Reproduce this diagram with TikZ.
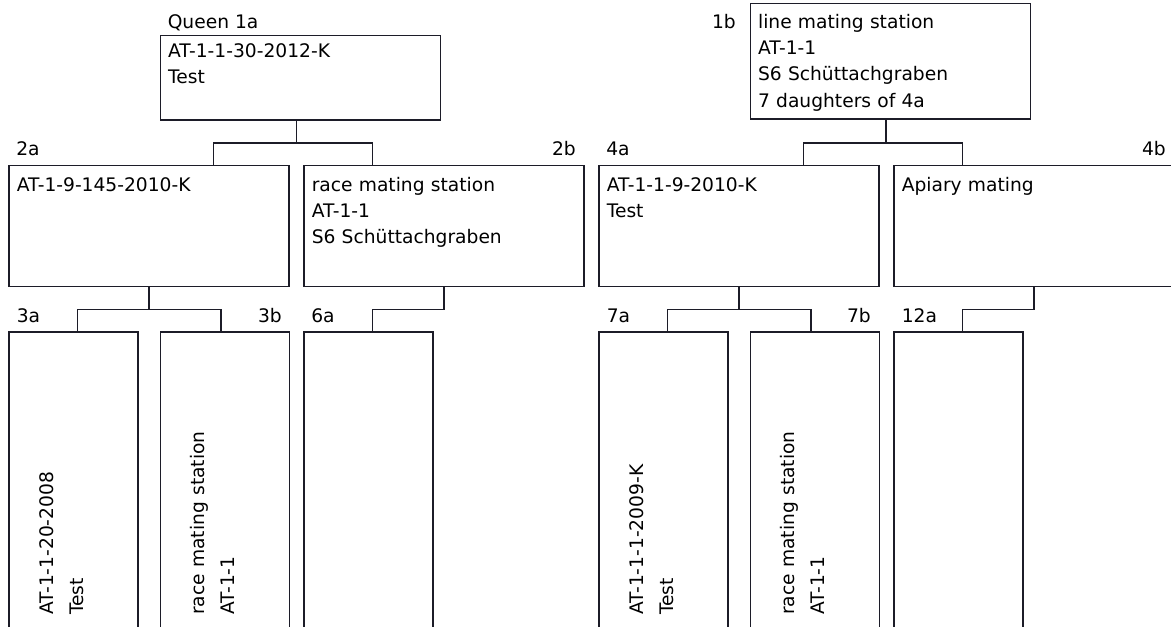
\documentclass[tikz,border=0pt]{standalone}
\usepackage{fontspec}
\setmainfont{DejaVu Sans}
\usetikzlibrary{calc}
\definecolor{linec}{RGB}{28,28,40}
\begin{document}
\begin{tikzpicture}[x=0.75pt,y=-0.75pt,
  box/.style={draw=linec, line width=1pt, anchor=north west, inner sep=0pt, outer sep=0pt},
  wide/.style={box, minimum width=210pt, minimum height=90.75pt},
  tall/.style={box, minimum width=96.75pt, minimum height=277.5pt},
  conn/.style={draw=linec, line width=1pt},
  lbl/.style={inner sep=0pt, anchor=base west, font=\fontsize{14}{19.7}\selectfont},
  lblr/.style={lbl, anchor=base east},
  txt/.style={inner sep=0pt, anchor=base west, text width=220pt, align=left, font=\fontsize{14}{19.7}\selectfont},
  vtxt/.style={txt, rotate=90, font=\fontsize{14}{22.5}\selectfont}]
\clip (0,0) rectangle (1171,626);
\fill[white] (0,0) rectangle (1171,626);
% level 1
\node[box, minimum width=210pt, minimum height=63.2pt] (b1a) at (160.3,35.7) {};
\node[box, minimum width=210pt, minimum height=86.8pt] (b1b) at (750.5,3.3) {};
% level 2
\node[wide] (b2a) at (9,165.7) {};
\node[wide] (b2b) at (304,165.7) {};
\node[wide] (b4a) at (599,165.7) {};
\node[wide] (b4b) at (894,165.7) {};
% level 3
\node[tall] (b3a) at (9,332) {};
\node[tall] (b3b) at (160.5,332) {};
\node[tall] (b6a) at (304,332) {};
\node[tall] (b7a) at (599,332) {};
\node[tall] (b7b) at (750.5,332) {};
\node[tall] (b12a) at (894,332) {};
% connectors
\coordinate (j1a) at ($(b1a.south west)+(136,23)$);
\draw[conn] ($(b1a.south west)+(136,0)$) -- (j1a);
\draw[conn] ($(b2a.north west)+(204.7,0)$) |- (j1a) -| ($(b2b.north west)+(68.3,0)$);
\coordinate (j1b) at ($(b1b.south west)+(135.5,24)$);
\draw[conn] ($(b1b.south west)+(135.5,0)$) -- (j1b);
\draw[conn] ($(b4a.north west)+(204.5,0)$) |- (j1b) -| ($(b4b.north west)+(68.3,0)$);
\coordinate (j2a) at ($(b2a.south)+(0,22.6)$);
\draw[conn] (b2a.south) -- (j2a);
\draw[conn] ($(b3a.north west)+(68.3,0)$) |- (j2a) -| ($(b3b.north west)+(60.5,0)$);
\coordinate (j2b) at ($(b2b.south)+(0,22.6)$);
\draw[conn] (b2b.south) -- (j2b) -| ($(b6a.north west)+(68.3,0)$);
\coordinate (j4a) at ($(b4a.south)+(0,22.6)$);
\draw[conn] (b4a.south) -- (j4a);
\draw[conn] ($(b7a.north west)+(68.3,0)$) |- (j4a) -| ($(b7b.north west)+(60.5,0)$);
\coordinate (j4b) at ($(b4b.south)+(0,22.6)$);
\draw[conn] (b4b.south) -- (j4b) -| ($(b12a.north west)+(68.3,0)$);
% labels
\node[lbl] (l1a) at (167.5,28.3) {Queen 1a};
\node[lblr] (l1b) at (736,28.3) {1b};
\node[lbl] (l2a) at (16,155) {2a};
\node[lblr] (l2b) at (576,155) {2b};
\node[lbl] (l4a) at (606,155) {4a};
\node[lblr] (l4b) at (1166,155) {4b};
\node[lbl] (l3a) at (16.5,322.7) {3a};
\node[lblr] (l3b) at (282,322.7) {3b};
\node[lbl] (l6a) at (311,322.7) {6a};
\node[lbl] (l7a) at (606.5,322.7) {7a};
\node[lblr] (l7b) at (871,322.7) {7b};
\node[lbl] (l12a) at (901.5,322.7) {12a};
% box texts
\node[txt] (t1a) at (167.8,57.3) {AT-1-1-30-2012-K\\Test};
\node[txt] (t1b) at (757.8,28.3) {line mating station\\AT-1-1\\S6 Schüttachgraben\\7 daughters of 4a};
\node[txt] (t2a) at (16.5,191.2) {AT-1-9-145-2010-K};
\node[txt] (t2b) at (311.5,191.2) {race mating station\\AT-1-1\\S6 Schüttachgraben};
\node[txt] (t4a) at (606.5,191.2) {AT-1-1-9-2010-K\\Test};
\node[txt] (t4b) at (901.5,191.2) {Apiary mating};
\node[vtxt] (t3a) at (53.3,615) {AT-1-1-20-2008\\Test};
\node[vtxt] (t3b) at (204.8,615) {race mating station\\AT-1-1};
\node[vtxt] (t7a) at (643.3,615) {AT-1-1-1-2009-K\\Test};
\node[vtxt] (t7b) at (794.8,615) {race mating station\\AT-1-1};
\end{tikzpicture}
\end{document}
